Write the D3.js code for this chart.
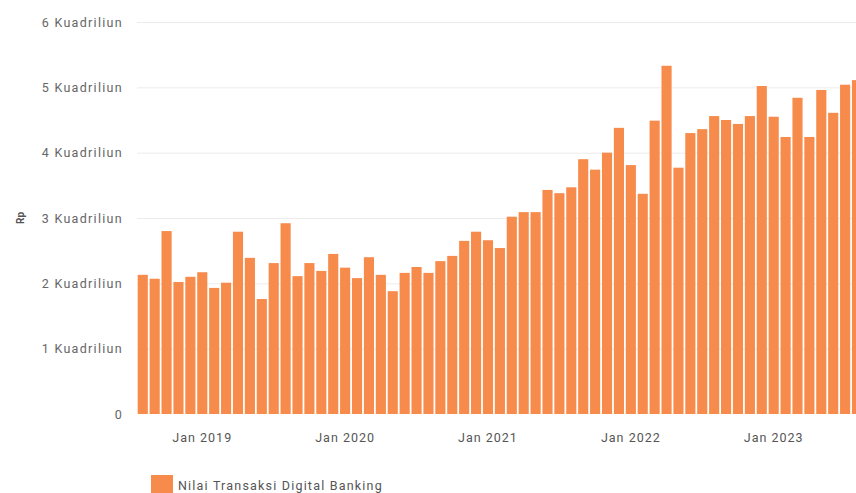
<!DOCTYPE html>
<html>
<head>
<meta charset="utf-8">
<script src="https://cdn.jsdelivr.net/npm/d3@7"></script>
<style>
  body { margin: 0; background: #fff; overflow: hidden; }
  svg { display: block; font-family: Roboto, "Noto Sans", sans-serif; }
</style>
</head>
<body>
<div id="chart"></div>
<script>
// monthly series, Aug 2018 .. Aug 2023 (last bar runs off the right edge)
var startMonth = "2018-08";
var values = [
  2.13, 2.07, 2.80, 2.02, 2.10, 2.17, 1.93, 2.01, 2.79, 2.39, 1.76, 2.31,
  2.92, 2.11, 2.31, 2.19, 2.45, 2.24, 2.08, 2.40, 2.13, 1.88, 2.16, 2.25,
  2.16, 2.34, 2.42, 2.65, 2.79, 2.66, 2.54, 3.02, 3.09, 3.09, 3.43, 3.38,
  3.47, 3.90, 3.74, 4.00, 4.38, 3.81, 3.37, 4.49, 5.33, 3.77, 4.30, 4.36,
  4.56, 4.50, 4.44, 4.56, 5.02, 4.55, 4.24, 4.84, 4.24, 4.96, 4.61, 5.04,
  5.11
];
var yTicks = [0, 1, 2, 3, 4, 5, 6];
var yTickLabels = ["0", "1 Kuadriliun", "2 Kuadriliun", "3 Kuadriliun", "4 Kuadriliun", "5 Kuadriliun", "6 Kuadriliun"];
var xTickLabels = ["Jan 2019", "Jan 2020", "Jan 2021", "Jan 2022", "Jan 2023"];
var seriesName = "Nilai Transaksi Digital Banking";
var barColor = "#f68b4b";

var width = 856, height = 493;
var parse = d3.timeParse("%Y-%m");
var first = parse(startMonth);
var months = values.map(function(v, i) { return d3.timeMonth.offset(first, i); });
var fmt = d3.timeFormat("%b %Y");

var svg = d3.select("#chart").append("svg")
    .attr("width", width)
    .attr("height", height);

var step = 11.875;
var x = d3.scaleBand()
    .domain(months.map(function(d) { return +d; }))
    .range([137.7, 137.7 + step * values.length])
    .paddingInner(0.15)
    .paddingOuter(0);

var y = d3.scaleLinear()
    .domain([0, 6])
    .range([414, 22]);

// gridlines
svg.append("g")
    .selectAll("line")
    .data(yTicks.filter(function(d) { return d > 0; }))
    .enter().append("line")
    .attr("x1", 137)
    .attr("x2", width)
    .attr("y1", function(d) { return y(d) + 0.5; })
    .attr("y2", function(d) { return y(d) + 0.5; })
    .style("stroke", "#ececec")
    .style("stroke-width", 1);

// y axis labels
var yAxis = d3.axisLeft(y)
    .tickValues(yTicks)
    .tickSize(0)
    .tickPadding(0)
    .tickFormat(function(d, i) { return yTickLabels[i]; });

svg.append("g")
    .attr("transform", "translate(123,0)")
    .call(yAxis)
    .call(function(g) { g.select(".domain").remove(); })
    .selectAll("text")
    .style("font-size", "12.5px")
    .style("letter-spacing", "1.3px")
    .style("fill", "#666")
    .style("font-family", "Roboto, sans-serif");

svg.append("text")
    .attr("transform", "translate(24,218) rotate(-90)")
    .attr("text-anchor", "middle")
    .style("font-size", "10px")
    .style("font-weight", "bold")
    .style("fill", "#555")
    .text("Rp");

// bars
svg.append("g")
    .selectAll("rect")
    .data(values)
    .enter().append("rect")
    .attr("x", function(d, i) { return x(+months[i]); })
    .attr("width", x.bandwidth())
    .attr("y", function(d) { return y(d); })
    .attr("height", function(d) { return y(0) - y(d); })
    .style("fill", barColor);

// x axis labels
var xTickVals = months.filter(function(d) { return xTickLabels.indexOf(fmt(d)) >= 0; }).map(function(d) { return +d; });
var xAxis = d3.axisBottom(x)
    .tickValues(xTickVals)
    .tickSize(0)
    .tickPadding(0)
    .tickFormat(function(d) { return fmt(new Date(d)); });

svg.append("g")
    .attr("transform", "translate(0,433)")
    .call(xAxis)
    .call(function(g) { g.select(".domain").remove(); })
    .selectAll("text")
    .style("font-size", "12.5px")
    .style("letter-spacing", "1px")
    .style("fill", "#555")
    .style("font-family", "Roboto, sans-serif");

// legend
var legend = svg.append("g").attr("transform", "translate(151,475)");
legend.append("rect")
    .attr("width", 22)
    .attr("height", 18)
    .style("fill", barColor);
legend.append("text")
    .attr("x", 27)
    .attr("y", 15)
    .style("font-size", "12.5px")
    .style("letter-spacing", "1.2px")
    .style("fill", "#555")
    .text(seriesName);
</script>
</body>
</html>
